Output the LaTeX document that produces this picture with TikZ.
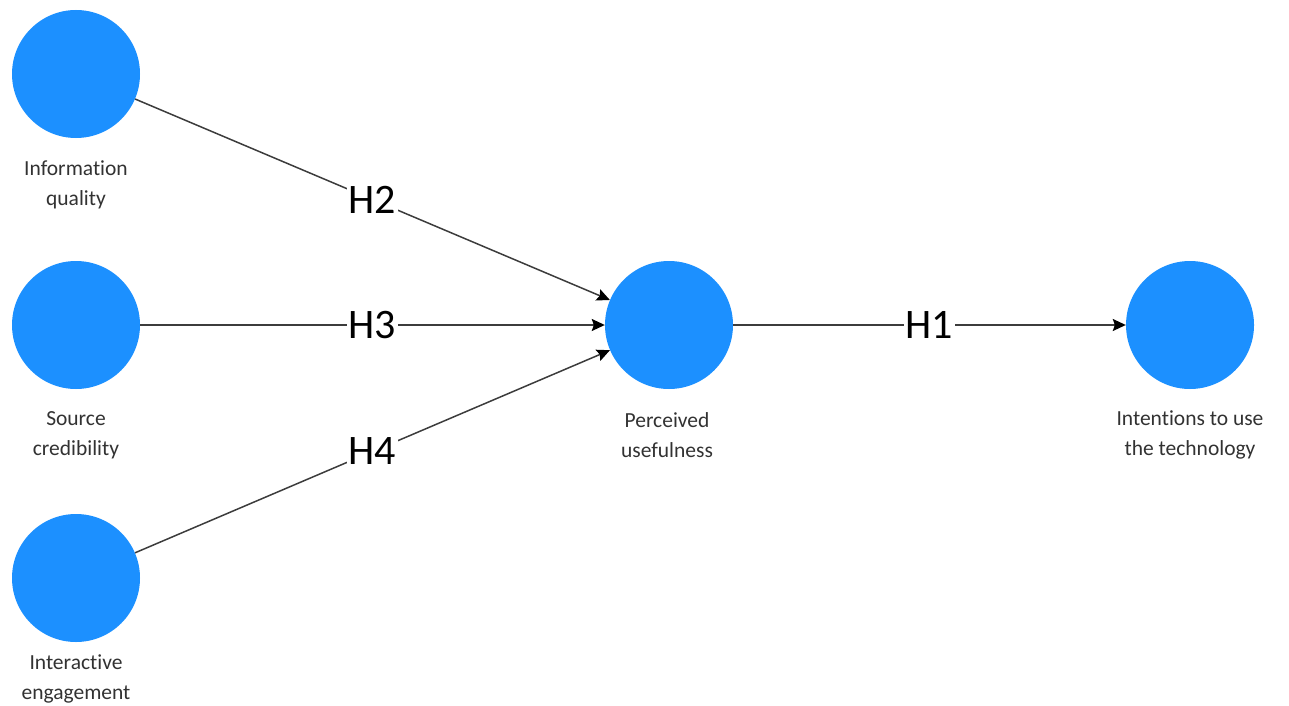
\documentclass[tikz,border=0pt]{standalone}
\usepackage{fontspec}
\setmainfont{Carlito}[Ligatures=NoCommon]
\usetikzlibrary{arrows.meta}
\definecolor{cblue}{RGB}{28,144,255}
\definecolor{ltext}{RGB}{50,50,50}
\definecolor{lline}{RGB}{60,60,60}
\begin{document}
\begin{tikzpicture}[x=1pt,y=-1pt,
  construct/.style={circle,fill=cblue,minimum size=128pt,inner sep=0pt},
  lab/.style={align=center,text=ltext,font=\fontsize{21.5}{30}\selectfont},
  hyp/.style={fill=white,inner sep=1.5pt,text=black,font=\fontsize{42}{42}\selectfont},
  link/.style={draw=lline,line width=1.5pt,-{Stealth[length=13pt,width=12pt,inset=2pt,color=black]}}]
\useasboundingbox (0,0) rectangle (1289,706);
\node[construct] (iq) at (76,74) {};
\node[construct] (sc) at (76,325) {};
\node[construct] (ie) at (76,578) {};
\node[construct] (pu) at (669,325) {};
\node[construct] (it) at (1190,325) {};
\node[lab] (iql) at (76,185) {Information\\quality};
\node[lab] (scl) at (76,435) {Source\\credibility};
\node[lab] (iel) at (76,679) {Interactive\\engagement};
\node[lab] (pul) at (667,435) {Perceived\\usefulness};
\node[lab] (itl) at (1190,435) {Intentions to use\\the technology};
\draw[link] (iq) -- node[hyp,pos=0.5] (h2) {H2} (pu);
\draw[link] (sc) -- node[hyp,pos=0.5] (h3) {H3} (pu);
\draw[link] (ie) -- node[hyp,pos=0.5] (h4) {H4} (pu);
\draw[link] (pu) -- node[hyp,pos=0.5] (h1) {H1} (it);
\end{tikzpicture}
\end{document}
